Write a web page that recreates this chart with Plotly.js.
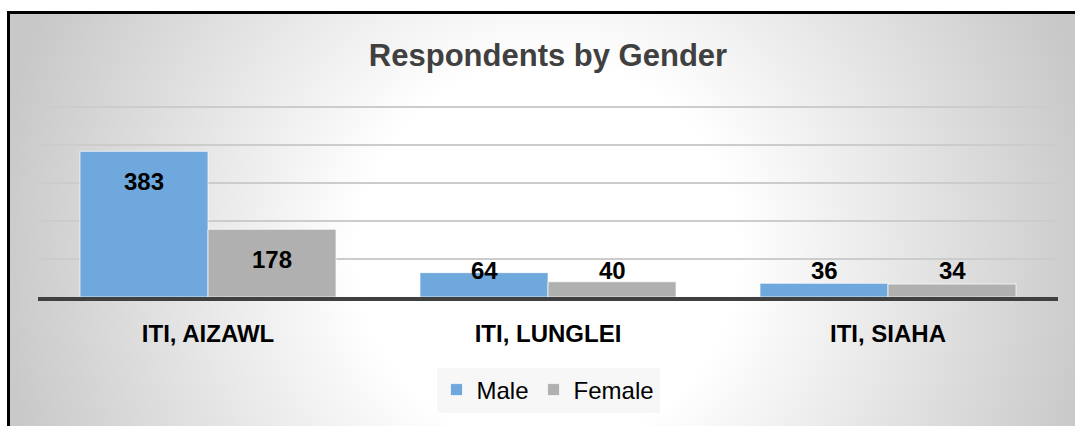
<!DOCTYPE html>
<html>
<head>
<meta charset="utf-8">
<script src="https://cdn.plot.ly/plotly-3.0.1.min.js"></script>
<style>
  html, body { margin: 0; padding: 0; width: 1075px; height: 426px; overflow: hidden; background: #ffffff; }
  #frame {
    position: absolute; left: 7px; top: 11px; width: 1068px; height: 415px;
    box-sizing: border-box;
    border-left: 3px solid #000; border-top: 3px solid #000;
    background: radial-gradient(circle 560px at 538px 239px, #ffffff 0px, #ffffff 190px, #c8c8c8 560px);
  }
  #chart { position: absolute; left: 0; top: 0; width: 1075px; height: 426px; }
</style>
</head>
<body>
<div id="frame"></div>
<div id="chart"></div>
<script>
const categories = ["ITI, AIZAWL", "ITI, LUNGLEI", "ITI, SIAHA"];
const maleValues = [383, 64, 36];
const femaleValues = [178, 40, 34];
const seriesNames = ["Male", "Female"];
const yTicks = [100, 200, 300, 400, 500];

const W = 1075, H = 426;
const yMax = 510;
const margin = { l: 38, r: 17, t: 103, b: 129 };
const bargap = 0.247;
const plotH = H - margin.t - margin.b;
const ppu = plotH / yMax;

const labelFont = { family: "'Liberation Sans', Arial, sans-serif", size: 24, color: "#000000" };

const traces = [
  {
    type: "bar", name: seriesNames[0], x: categories, y: maleValues,
    marker: { color: "#6fa8dc", line: { color: "rgba(255,255,255,0.7)", width: 1 } },
    hoverinfo: "x+y+name"
  },
  {
    type: "bar", name: seriesNames[1], x: categories, y: femaleValues,
    marker: { color: "#b0b0b0", line: { color: "rgba(255,255,255,0.7)", width: 1 } },
    hoverinfo: "x+y+name"
  }
];

const barOffset = (1 - bargap) / 4;
const annotations = [];
[maleValues, femaleValues].forEach((vals, si) => {
  vals.forEach((v, i) => {
    const hpx = v * ppu;
    const shift = Math.max(hpx - 30, 27);
    annotations.push({
      x: i + (si === 0 ? -barOffset : barOffset), xref: "x",
      y: 0, yref: "y", yshift: shift,
      text: "<b>" + v + "</b>", showarrow: false,
      xanchor: "center", yanchor: "middle",
      font: labelFont
    });
  });
});

const layout = {
  width: W, height: H,
  margin: margin,
  paper_bgcolor: "rgba(0,0,0,0)",
  plot_bgcolor: "rgba(0,0,0,0)",
  barmode: "group", bargap: bargap, bargroupgap: 0,
  title: {
    text: "<b>Respondents by Gender</b>",
    font: { family: "'Liberation Sans', Arial, sans-serif", size: 31, color: "#404040" },
    x: 0.5, xref: "paper", xanchor: "center",
    y: 1 - 55 / H, yref: "container", yanchor: "middle"
  },
  xaxis: {
    type: "category",
    showgrid: false, zeroline: false,
    showline: true, linecolor: "#404040", linewidth: 4,
    ticks: "", ticklabelstandoff: 12,
    tickfont: { family: labelFont.family, size: 24, color: "#000000", weight: "bold" },
    fixedrange: true
  },
  yaxis: {
    range: [0, yMax], tickvals: yTicks, showticklabels: false,
    showgrid: true, gridcolor: "#cccccc", gridwidth: 1.5,
    zeroline: false, showline: false, ticks: "", fixedrange: true
  },
  showlegend: true,
  legend: {
    orientation: "h", x: 0.5, xref: "paper", xanchor: "center",
    y: 1 - 390 / H, yref: "container", yanchor: "middle",
    bgcolor: "#f7f7f7",
    font: { family: "'Liberation Sans', Arial, sans-serif", size: 24, color: "#000000" },
    itemclick: false, itemdoubleclick: false
  },
  annotations: annotations
};

Plotly.newPlot("chart", traces, layout, { displayModeBar: false });
</script>
</body>
</html>
